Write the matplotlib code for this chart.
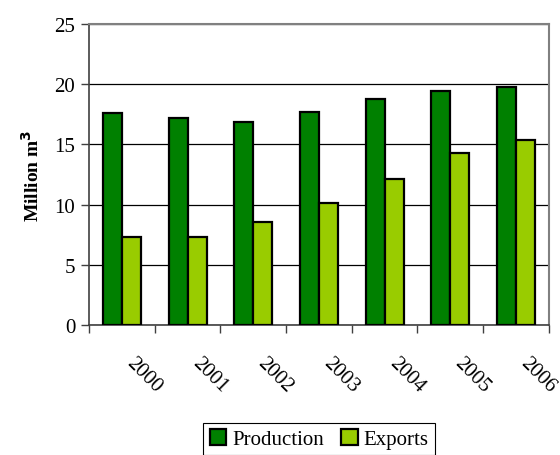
import numpy as np
import matplotlib.pyplot as plt
import matplotlib.transforms as mtrans
from matplotlib.ticker import FixedLocator

years = ['2000', '2001', '2002', '2003', '2004', '2005', '2006']
production = [17.6, 17.2, 16.9, 17.7, 18.8, 19.4, 19.8]
exports = [7.3, 7.3, 8.6, 10.1, 12.1, 14.3, 15.4]

plt.rcParams['font.family'] = ['Liberation Serif', 'DejaVu Serif']

fig = plt.figure(figsize=(5.6, 4.56), dpi=100)
ax = fig.add_axes([0.159, 0.285, 0.821, 0.66])

x = np.arange(len(years))
w = 0.29
ax.bar(x - w/2, production, w, color='#008000', edgecolor='black', linewidth=1.6,
       label='Production', zorder=3)
ax.bar(x + w/2, exports, w, color='#99CC00', edgecolor='black', linewidth=1.6,
       label='Exports', zorder=3)

ax.set_xlim(-0.5, len(years) - 0.5)
ax.set_ylim(0, 25)
ax.set_yticks([0, 5, 10, 15, 20, 25])
ax.yaxis.grid(True, color='black', linewidth=0.9, zorder=0)

# tick marks on category boundaries, labels on centres
ax.set_xticks(x)
ax.set_xticklabels(years, rotation=-45, ha='left', va='top', rotation_mode='anchor')
ax.xaxis.set_minor_locator(FixedLocator(np.arange(-0.5, len(years), 1.0)))
ax.tick_params(axis='x', which='major', length=0, pad=20, labelsize=15)
ax.tick_params(axis='x', which='minor', length=6, width=1, color='#404040')
ax.tick_params(axis='y', length=6, width=1, color='#404040', labelsize=15, pad=4)

shift = mtrans.ScaledTranslation(14/100, 0, fig.dpi_scale_trans)
for lab in ax.get_xticklabels():
    lab.set_transform(lab.get_transform() + shift)

for s in ['left', 'bottom']:
    ax.spines[s].set_color('#404040')
    ax.spines[s].set_linewidth(1.2)
for s in ['top', 'right']:
    ax.spines[s].set_color('#808080')
    ax.spines[s].set_linewidth(1.5)

ax.set_ylabel('Million m$^{\\mathbf{3}}$', fontsize=14, fontweight='bold', labelpad=8)

leg = fig.legend(loc='upper center', bbox_to_anchor=(0.57, 0.071), ncol=2,
                 fontsize=15, frameon=True, fancybox=False, framealpha=1,
                 edgecolor='black', handlelength=0.8, handleheight=0.8,
                 handletextpad=0.3, columnspacing=0.8, borderpad=0.3,
                 borderaxespad=0)
leg.get_frame().set_linewidth(0.8)

fig.savefig('out.png', dpi=100)
